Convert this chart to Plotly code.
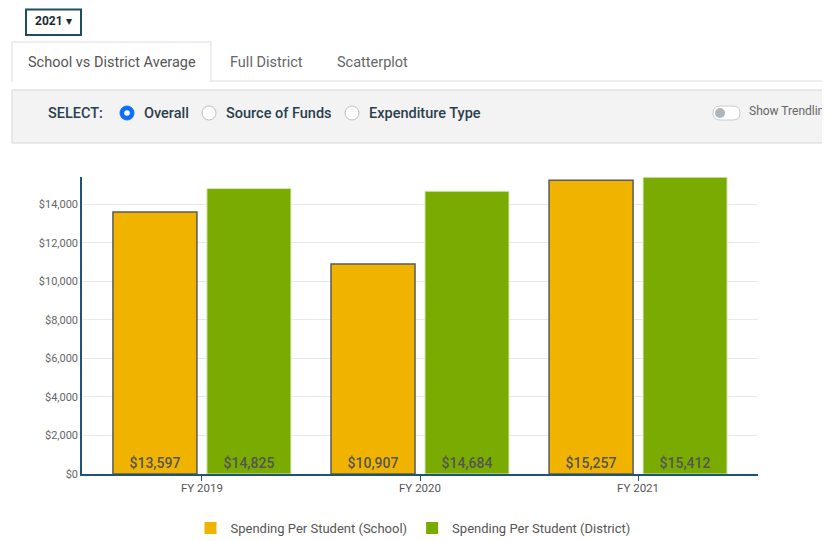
import plotly.graph_objects as go

categories = ["FY 2019", "FY 2020", "FY 2021"]
school = [13597, 10907, 15257]
district = [14825, 14684, 15412]
series_names = ["Spending Per Student (School)", "Spending Per Student (District)"]
y_ticks = [0, 2000, 4000, 6000, 8000, 10000, 12000, 14000]
y_tick_text = ["$" + f"{v:,}" for v in y_ticks]

OFF = 8  # page body margin in the browser
WIN_W, WIN_H = 830, 541
W, H = WIN_W - OFF, WIN_H - OFF
L, R, T, B = 82, 758, 177, 474

def px(x):
    return (x - L) / (R - L)

def py(y):
    return (B - y) / (B - T)

FONT = "Roboto"
AXIS = "#1d5574"
SCHOOL_C = "#F0B400"
DISTRICT_C = "#7AAB00"

fig = go.Figure()
fig.add_trace(go.Bar(
    x=categories, y=school, name=series_names[0], offsetgroup="s", showlegend=False,
    marker=dict(color=SCHOOL_C, line=dict(color="#5a5a5a", width=1.5)),
    text=["$" + f"{v:,}" for v in school], textposition="inside",
    insidetextanchor="start", textangle=0,
    textfont=dict(family=FONT, size=14, color="#555555", weight=500),
))
fig.add_trace(go.Bar(
    x=categories, y=district, name=series_names[1], offsetgroup="d", showlegend=False,
    marker=dict(color=DISTRICT_C, line=dict(color="#d8e8c0", width=1)),
    text=["$" + f"{v:,}" for v in district], textposition="inside",
    insidetextanchor="start", textangle=0,
    textfont=dict(family=FONT, size=14, color="#555555", weight=500),
))
# legend-only entries (no outline on swatches)
fig.add_trace(go.Bar(x=[categories[0]], y=[None], name=series_names[0], offsetgroup="s",
                     marker=dict(color=SCHOOL_C, line=dict(width=0)), hoverinfo="skip"))
fig.add_trace(go.Bar(x=[categories[0]], y=[None], name=series_names[1], offsetgroup="d",
                     marker=dict(color=DISTRICT_C, line=dict(width=0)), hoverinfo="skip"))

shapes = []
ann = []

# dropdown
shapes.append(dict(type="rect", xref="paper", yref="paper", x0=px(26), x1=px(81), y0=py(35), y1=py(9.5),
                   line=dict(color="#1d4e5e", width=2), fillcolor="white", layer="above"))
ann.append(dict(xref="paper", yref="paper", x=px(53), y=py(21), text="<b>2021</b> ▾", showarrow=False,
                font=dict(family=FONT, size=12, color="#1a2a33"), xanchor="center", yanchor="middle"))
# tabs
shapes.append(dict(type="line", xref="paper", yref="paper", x0=px(211), x1=px(840), y0=py(81), y1=py(81),
                   line=dict(color="#dddddd", width=1)))
shapes.append(dict(type="path", xref="paper", yref="paper",
                   path=f"M {px(12)},{py(82)} L {px(12)},{py(42)} L {px(211)},{py(42)} L {px(211)},{py(82)}",
                   line=dict(color="#dddddd", width=1)))
TAB_F = 14.5
ann.append(dict(xref="paper", yref="paper", x=px(112), y=py(62), text="School vs District Average", showarrow=False,
                font=dict(family=FONT, size=TAB_F, color="#555555"), xanchor="center", yanchor="middle"))
ann.append(dict(xref="paper", yref="paper", x=px(266), y=py(62), text="Full District", showarrow=False,
                font=dict(family=FONT, size=TAB_F, color="#666666"), xanchor="center", yanchor="middle"))
ann.append(dict(xref="paper", yref="paper", x=px(372), y=py(62), text="Scatterplot", showarrow=False,
                font=dict(family=FONT, size=TAB_F, color="#666666"), xanchor="center", yanchor="middle"))
# select panel
shapes.append(dict(type="rect", xref="paper", yref="paper", x0=px(12), x1=px(845), y0=py(143), y1=py(90),
                   line=dict(color="#d6d6d6", width=1), fillcolor="#f3f3f3"))
ann.append(dict(xref="paper", yref="paper", x=px(46), y=py(113), text="SELECT:", showarrow=False,
                font=dict(family=FONT, size=14.5, color="#2b3f4e", weight=500), xanchor="left", yanchor="middle"))
# radio buttons
for cx, label, on in [(127, "Overall", True), (209, "Source of Funds", False), (352, "Expenditure Type", False)]:
    if on:
        shapes.append(dict(type="circle", xref="paper", yref="paper", x0=px(cx - 7), x1=px(cx + 7),
                           y0=py(113 + 7), y1=py(113 - 7), line=dict(color="#0d6efd", width=1), fillcolor="#0d6efd"))
        shapes.append(dict(type="circle", xref="paper", yref="paper", x0=px(cx - 2.8), x1=px(cx + 2.8),
                           y0=py(113 + 2.8), y1=py(113 - 2.8), line=dict(color="white", width=0), fillcolor="white"))
    else:
        shapes.append(dict(type="circle", xref="paper", yref="paper", x0=px(cx - 7), x1=px(cx + 7),
                           y0=py(113 + 7), y1=py(113 - 7), line=dict(color="#bdbdbd", width=1), fillcolor="white"))
    ann.append(dict(xref="paper", yref="paper", x=px(cx + 15), y=py(113), text=label, showarrow=False,
                    font=dict(family=FONT, size=14.5, color="#2b3f4e", weight=500), xanchor="left", yanchor="middle"))
# toggle
shapes.append(dict(type="path", xref="paper", yref="paper",
                   path=(f"M {px(720)},{py(106)} L {px(733)},{py(106)} "
                         f"Q {px(740)},{py(106)} {px(740)},{py(113)} Q {px(740)},{py(120)} {px(733)},{py(120)} "
                         f"L {px(720)},{py(120)} Q {px(713)},{py(120)} {px(713)},{py(113)} "
                         f"Q {px(713)},{py(106)} {px(720)},{py(106)} Z"),
                   line=dict(color="#cccccc", width=1), fillcolor="white"))
shapes.append(dict(type="circle", xref="paper", yref="paper", x0=px(715), x1=px(725),
                   y0=py(118), y1=py(108), line=dict(width=0), fillcolor="#adb5bd"))
ann.append(dict(xref="paper", yref="paper", x=px(747), y=py(111), text="Show Trendlines", showarrow=False,
                font=dict(family=FONT, size=12, color="#666666"), xanchor="left", yanchor="middle"))

fig.update_layout(
    width=W, height=H,
    margin=dict(l=L - OFF, r=WIN_W - R, t=T - OFF, b=WIN_H - B, pad=0),
    paper_bgcolor="white", plot_bgcolor="white",
    barmode="group", bargap=0.138, bargroupgap=0.106,
    font=dict(family=FONT, color="#666666"),
    xaxis=dict(range=[-0.55, 2.55], showline=True, linecolor=AXIS, linewidth=1.5,
               ticks="outside", ticklen=5, tickcolor=AXIS, ticklabelstandoff=-3,
               tickfont=dict(family=FONT, size=11.5, color="#555555"), showgrid=False, fixedrange=True),
    yaxis=dict(range=[0, 15420], tickvals=y_ticks, ticktext=y_tick_text, showline=True, linecolor=AXIS,
               linewidth=1.5, showgrid=True, gridcolor="#e9e9e9", zeroline=False, ticks="",
               tickfont=dict(family=FONT, size=11, color="#666666"), fixedrange=True),
    legend=dict(orientation="h", xref="container", yref="container",
                x=(413 - OFF) / W, xanchor="center", y=(WIN_H - 528) / H, yanchor="middle",
                font=dict(family=FONT, size=13, color="#555555"), itemwidth=30, tracegroupgap=0),
    shapes=shapes, annotations=ann,
)

fig.write_html("out.html", default_width=f"{W}px", default_height=f"{H}px")
